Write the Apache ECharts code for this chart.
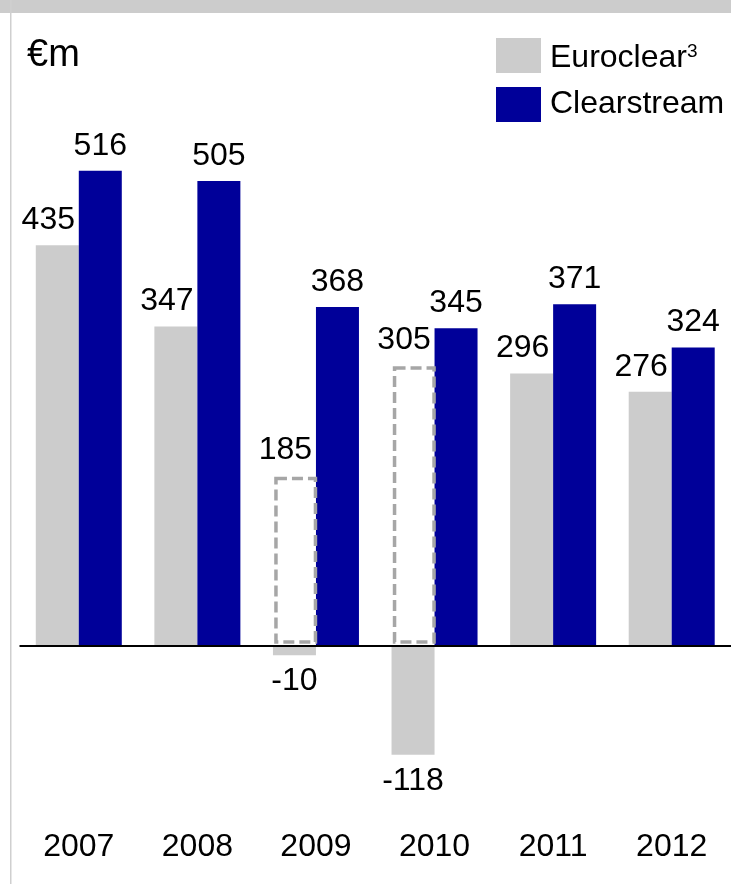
<!DOCTYPE html>
<html>
<head>
<meta charset="utf-8">
<script src="https://cdn.jsdelivr.net/npm/echarts@6/dist/echarts.min.js"></script>
<style>
  html, body { margin: 0; padding: 0; background: #ffffff; }
  #chart { width: 731px; height: 884px; }
</style>
</head>
<body>
<div id="chart"></div>
<script>
// ---- data ----
const categories = ['2007', '2008', '2009', '2010', '2011', '2012'];
const euroclear = [435, 347, -10, -118, 296, 276];
const clearstream = [516, 505, 368, 345, 371, 324];
const euroclearAdjusted = [null, null, 185, 305, null, null];
const seriesNames = ['Euroclear', 'Clearstream'];
const unitLabel = '€m';

// ---- style constants ----
const FONT = '"Liberation Sans", Arial, sans-serif';
const BAR_W = 43;
const GRAY = '#cccccc';
const BLUE = '#000099';
const VAL_FS = 32;

const chart = echarts.init(document.getElementById('chart'), null, { renderer: 'canvas' });

const grayData = euroclear.map(v => ({
  value: v,
  label: v < 0
    ? { position: 'bottom', distance: 10, offset: [0, 0] }
    : { position: 'top', distance: 9, offset: [-9, 0] }
}));

const adjData = [];
euroclearAdjusted.forEach((v, i) => { if (v !== null) adjData.push([i, v]); });

const option = {
  animation: false,
  backgroundColor: '#ffffff',
  textStyle: { fontFamily: FONT },
  grid: { left: 19.5, right: -2.5, top: 93.4, bottom: 53.8, containLabel: false },
  legend: [
    {
      data: [seriesNames[0]],
      left: 496, top: 38, padding: 0,
      icon: 'rect', itemWidth: 45, itemHeight: 35,
      selectedMode: false,
      formatter: () => 'Euroclear{sup|3}',
      textStyle: {
        fontSize: 32, color: '#000', fontFamily: FONT, padding: [6, 0, 0, 4],
        rich: { sup: { fontSize: 19, lineHeight: 24, verticalAlign: 'top', color: '#000', fontFamily: FONT } }
      }
    },
    {
      data: [seriesNames[1]],
      left: 496, top: 87, padding: 0,
      icon: 'rect', itemWidth: 45, itemHeight: 35,
      selectedMode: false,
      textStyle: { fontSize: 32, color: '#000', fontFamily: FONT, padding: [0, 0, 9, 4] }
    }
  ],
  xAxis: {
    type: 'category',
    data: categories,
    axisLine: { show: false },
    axisTick: { show: false },
    axisLabel: { fontSize: 32, color: '#000', margin: 1, fontFamily: FONT }
  },
  yAxis: {
    type: 'value', min: -200, max: 600, show: false,
    splitLine: { show: false }
  },
  graphic: [
    { type: 'rect', left: 0, top: 0, shape: { width: 731, height: 13 }, style: { fill: '#cccccc' }, z: 10 },
    { type: 'rect', left: 10, top: 0, shape: { width: 1.5, height: 884 }, style: { fill: '#cfcfcf' }, z: 10 },
    { type: 'text', left: 27, top: 37, style: { text: unitLabel, fontSize: 38, fontFamily: FONT, fill: '#000' }, z: 10 }
  ],
  series: [
    {
      name: seriesNames[0],
      type: 'bar',
      data: grayData,
      barWidth: BAR_W,
      barGap: '0%',
      itemStyle: { color: GRAY },
      label: { show: true, color: '#000', fontSize: VAL_FS, fontFamily: FONT }
    },
    {
      name: seriesNames[1],
      type: 'bar',
      data: clearstream,
      barWidth: BAR_W,
      barGap: '0%',
      itemStyle: { color: BLUE },
      label: { show: true, position: 'top', distance: 9, color: '#000', fontSize: VAL_FS, fontFamily: FONT },
      markLine: {
        silent: true,
        symbol: 'none',
        label: { show: false },
        lineStyle: { color: '#000', width: 2, type: 'solid' },
        data: [{ yAxis: 0 }],
        z: 5
      }
    },
    {
      name: 'Euroclear adjusted',
      type: 'custom',
      data: adjData,
      z: 4,
      renderItem: function (params, api) {
        const i = api.value(0);
        const v = api.value(1);
        const p0 = api.coord([i, 0]);
        const p1 = api.coord([i, v]);
        const cx = p0[0];
        const left = cx - BAR_W + 3;
        const width = BAR_W - 3.5;
        const top = p1[1] + 3;
        const bottom = p0[1] - 4;
        return {
          type: 'group',
          children: [
            {
              type: 'rect',
              shape: { x: left, y: top, width: width, height: bottom - top },
              style: { fill: 'none', stroke: '#a6a6a6', lineWidth: 3.5, lineDash: [11, 5] }
            },
            {
              type: 'text',
              x: cx - BAR_W / 2 - 9,
              y: p1[1] - 9,
              style: {
                text: String(v), fill: '#000', fontSize: VAL_FS, fontFamily: FONT,
                align: 'center', verticalAlign: 'bottom'
              }
            }
          ]
        };
      }
    }
  ]
};

chart.setOption(option);
</script>
</body>
</html>
